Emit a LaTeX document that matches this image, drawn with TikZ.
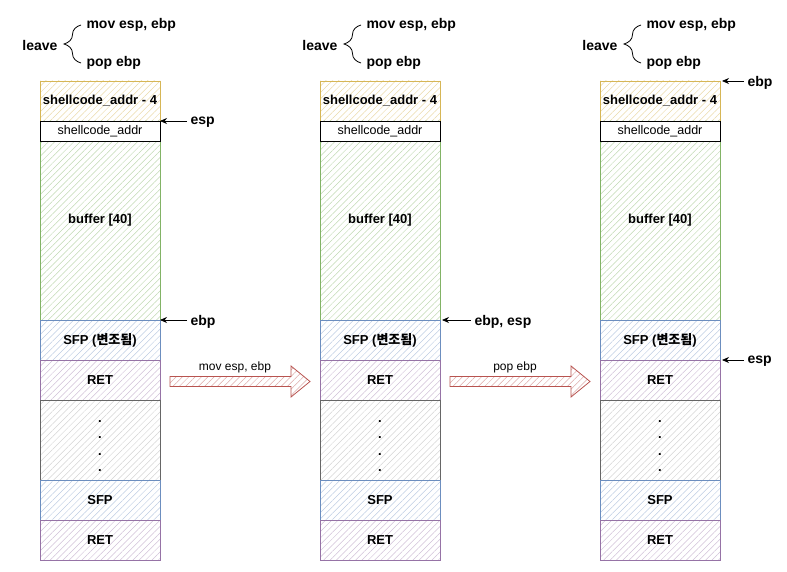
\documentclass[tikz,border=0pt]{standalone}
\usepackage{fontspec}
\setmainfont{Liberation Sans}
\newfontfamily\kr{Noto Sans CJK KR}
\usetikzlibrary{arrows.meta,positioning,patterns.meta,decorations.pathreplacing}

\definecolor{ylw}{HTML}{D6B656}
\definecolor{grn}{HTML}{82B366}
\definecolor{blu}{HTML}{6C8EBF}
\definecolor{prp}{HTML}{9673A6}
\definecolor{gry}{HTML}{666666}
\definecolor{rd}{HTML}{B85450}

\begin{document}
\begin{tikzpicture}[
  x=1pt, y=-1pt,
  >={Stealth[length=7pt,width=6pt]},
  hatch/.style={pattern={Lines[angle=45,distance=4.5pt,line width=0.5pt]}, pattern color=#1},
  cell/.style={draw, outer sep=0pt, inner sep=0pt, minimum width=120pt,
    minimum height=40pt, font=\fontsize{13}{16.5}\selectfont\bfseries},
  ylwcell/.style={cell, draw=ylw, hatch=ylw!50},
  whtcell/.style={cell, draw=black, fill=white, minimum height=20pt, font=\fontsize{12.5}{15}\selectfont},
  grncell/.style={cell, draw=grn, hatch=grn!50, minimum height=199pt},
  blucell/.style={cell, draw=blu, hatch=blu!45},
  prpcell/.style={cell, draw=prp, hatch=prp!45},
  grycell/.style={cell, draw=gry, hatch=gry!28, minimum height=80pt},
  lbl/.style={font=\fontsize{14}{16}\selectfont\bfseries},
  small/.style={font=\fontsize{12}{14}\selectfont},
  ptr/.style={->, line width=0.8pt},
  bigarr/.style={draw=rd, line width=0.8pt, hatch=rd!50}
]
\useasboundingbox (0,0) rectangle (787,572);

% three copies of the stack
\foreach \i/\x in {1/40,2/320,3/600} {
  \node[ylwcell, anchor=north west] (top\i) at (\x,81) {shellcode\_addr - 4};
  \node[grncell, below=0pt of top\i] (buf\i) {buffer [40]};
  \node[whtcell, below=0pt of top\i] (sc\i) {shellcode\_addr};
  \node[blucell, below=0pt of buf\i] (sfp\i) {SFP ({\kr 변조됨})};
  \node[prpcell, below=0pt of sfp\i] (ret\i) {RET};
  \node[grycell, below=0pt of ret\i] (dot\i) {};
  \node[cell, draw=none, minimum height=0pt, align=center] (dt\i)
    at ([yshift=-6pt]dot\i.center) {.\\.\\.\\.};
  \node[blucell, below=0pt of dot\i] (sfpx\i) {SFP};
  \node[prpcell, below=0pt of sfpx\i] (retx\i) {RET};

  % leave = mov + pop
  \node[lbl] (leave\i) at (\x,45) {leave};
  \node[lbl, anchor=west] (mov\i) at (\x+43,25) {mov esp, ebp};
  \node[lbl, anchor=west] (pop\i) at (\x+43,63) {pop ebp};
  \draw[decorate, decoration={brace, amplitude=17pt}, line width=0.8pt]
    ([xshift=-2pt]pop\i.west) -- ([xshift=-2pt]mov\i.west);
}

% pointers, stack 1
\node[lbl, anchor=west] (esp1) at (187,122.5) {esp};
\node[lbl, anchor=west] (ebp1) at (187,321.5) {ebp};
\draw[ptr] (esp1.west |- sc1.north) -- (sc1.north east);
\draw[ptr] (ebp1.west |- buf1.south) -- (buf1.south east);

% pointers, stack 2
\node[lbl, anchor=west] (ebp2) at (471,321.5) {ebp, esp};
\draw[ptr] (ebp2.west |- buf2.south) -- ([xshift=2pt]buf2.south east);

% pointers, stack 3
\node[lbl, anchor=west] (ebp3) at (744,82.5) {ebp};
\node[lbl, anchor=west] (esp3) at (744,361.5) {esp};
\draw[ptr] (ebp3.west |- top3.north) -- ([xshift=2pt]top3.north east);
\draw[ptr] (esp3.west |- ret3.north) -- ([xshift=2pt]ret3.north east);

% steps
\foreach \a in {170,450} {
  \draw[bigarr] (\a,376.5) -- ++(121,0) -- ++(0,-10.5) -- ++(19,15.5)
    -- ++(-19,15.5) -- ++(0,-10.5) -- ++(-121,0) -- cycle;
}
\node[small] (step1) at (235,367) {mov esp, ebp};
\node[small] (step2) at (515,367) {pop ebp};

\end{tikzpicture}
\end{document}
